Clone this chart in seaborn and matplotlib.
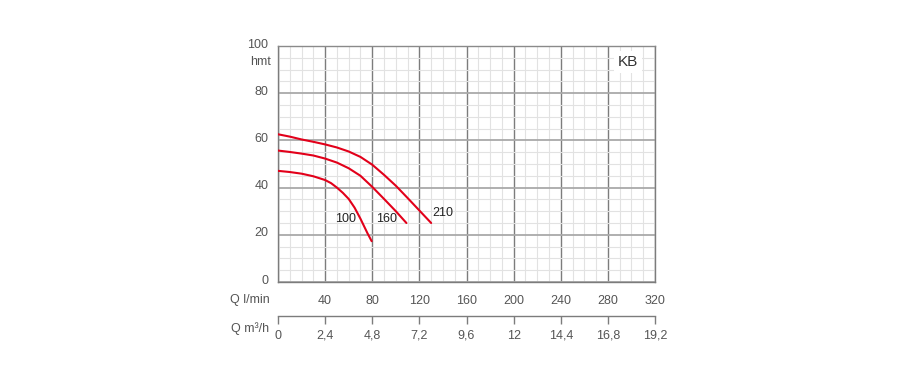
import matplotlib
matplotlib.use("Agg")
import matplotlib.pyplot as plt
import matplotlib.transforms as mtransforms
import seaborn as sns
import pandas as pd

# ---- data ----
q_100 = [0, 10, 20, 30, 40, 45, 50, 55, 60, 65, 70, 76, 79.5]
h_100 = [47.1, 46.6, 45.9, 44.8, 43.2, 41.9, 40.0, 37.8, 35.2, 31.5, 26.8, 20.6, 17.3]

q_160 = [0, 10, 20, 30, 40, 50, 60, 70, 80, 90, 100, 109]
h_160 = [55.7, 55.1, 54.4, 53.6, 52.3, 50.6, 48.2, 45.0, 40.3, 35.2, 30.0, 25.0]

q_210 = [0, 10, 20, 30, 40, 50, 60, 70, 80, 90, 100, 110, 120, 130]
h_210 = [62.6, 61.6, 60.4, 59.4, 58.3, 57.0, 55.3, 53.0, 49.7, 45.4, 40.8, 35.6, 30.3, 25.0]

curve_names = ["100", "160", "210"]
label_pos = {"100": (57, 26.7), "160": (92, 26.7), "210": (139.5, 29.2)}

lmin_ticks = [0, 40, 80, 120, 160, 200, 240, 280, 320]
lmin_labels = ["", "40", "80", "120", "160", "200", "240", "280", "320"]
m3h_ticks = [0, 2.4, 4.8, 7.2, 9.6, 12, 14.4, 16.8, 19.2]
m3h_labels = ["0", "2,4", "4,8", "7,2", "9,6", "12", "14,4", "16,8", "19,2"]
h_ticks = [0, 20, 40, 60, 80, 100]
h_labels = ["0", "20", "40", "60", "80", "100"]

df = pd.concat([
    pd.DataFrame({"Q": q_100, "H": h_100, "model": "100"}),
    pd.DataFrame({"Q": q_160, "H": h_160, "model": "160"}),
    pd.DataFrame({"Q": q_210, "H": h_210, "model": "210"}),
], ignore_index=True)

sns.set_style("white")
plt.rcParams["font.family"] = ["Liberation Sans", "DejaVu Sans"]
plt.rcParams["font.size"] = 9

W, H = 900, 379
fig = plt.figure(figsize=(9, 3.79), dpi=100)
L, R, T, B = 278, 655, 46, 282
ax = fig.add_axes([L / W, 1 - B / H, (R - L) / W, (B - T) / H])

RED = "#e2001a"
sns.lineplot(data=df, x="Q", y="H", hue="model", palette={n: RED for n in curve_names},
             estimator=None, sort=False, legend=False, lw=1.5, ax=ax, zorder=3)
for ln in ax.get_lines():
    ln.set_solid_joinstyle("round")

ax.set_xlim(0, 320)
ax.set_ylim(0, 100)
ax.set_xlabel("")
ax.set_ylabel("")

ax.set_xticks(range(0, 321, 10), minor=True)
ax.set_yticks(range(0, 101, 5), minor=True)
ax.set_xticks(lmin_ticks)
ax.set_xticklabels(lmin_labels)
ax.set_yticks(h_ticks)
ax.set_yticklabels(h_labels)
ax.set_axisbelow(True)
ax.grid(which="minor", color="#e2e2e2", lw=0.8)
ax.grid(axis="x", which="major", color="#7c7c7c", lw=1.0)
ax.grid(axis="y", which="major", color="#a9a9a9", lw=1.3)

for s in ["left", "bottom", "right", "top"]:
    ax.spines[s].set_color("#7c7c7c")
    ax.spines[s].set_linewidth(1.0)
ax.spines["top"].set_color("#8a8a8a")

ax.tick_params(axis="x", which="major", direction="out", length=8, width=1,
               color="#7c7c7c", labelcolor="#555555", pad=1.5, labelsize=9)
ax.tick_params(axis="y", which="major", direction="out", length=6, width=1,
               color="#7c7c7c", labelcolor="#555555", pad=1, labelsize=9)
ax.tick_params(which="minor", length=0)

off = mtransforms.ScaledTranslation(0, 3 / 100, fig.dpi_scale_trans)
for lab in ax.get_yticklabels():
    lab.set_transform(lab.get_transform() + off)

# secondary m3/h axis
sec = ax.secondary_xaxis((282 - 316) / (B - T),
                         functions=(lambda x: x * 0.06, lambda x: x / 0.06))
sec.set_xticks(m3h_ticks)
sec.set_xticklabels(m3h_labels)
sec.spines["bottom"].set_color("#7c7c7c")
sec.spines["bottom"].set_linewidth(1.0)
sec.tick_params(axis="x", direction="out", length=6, width=1, color="#7c7c7c",
                labelcolor="#555555", pad=4, labelsize=9)

# axis captions
fig.text(270 / W, 1 - 300 / H, "Q l/min", ha="right", va="center", color="#555555", fontsize=9)
fig.text(269 / W, 1 - 329 / H, "Q m³/h", ha="right", va="center", color="#555555", fontsize=9)
fig.text(271 / W, 1 - 62 / H, "hmt", ha="right", va="center", color="#555555", fontsize=9)

# curve labels
for n in curve_names:
    x, y = label_pos[n]
    ax.text(x, y, n, ha="center", va="center", color="#222222", fontsize=9, zorder=4)

ax.text(297, 93.2, "KB", ha="center", va="center", color="#333333", fontsize=11,
        bbox=dict(facecolor="white", edgecolor="none", pad=3), zorder=4)

fig.savefig("out.png", dpi=100)
